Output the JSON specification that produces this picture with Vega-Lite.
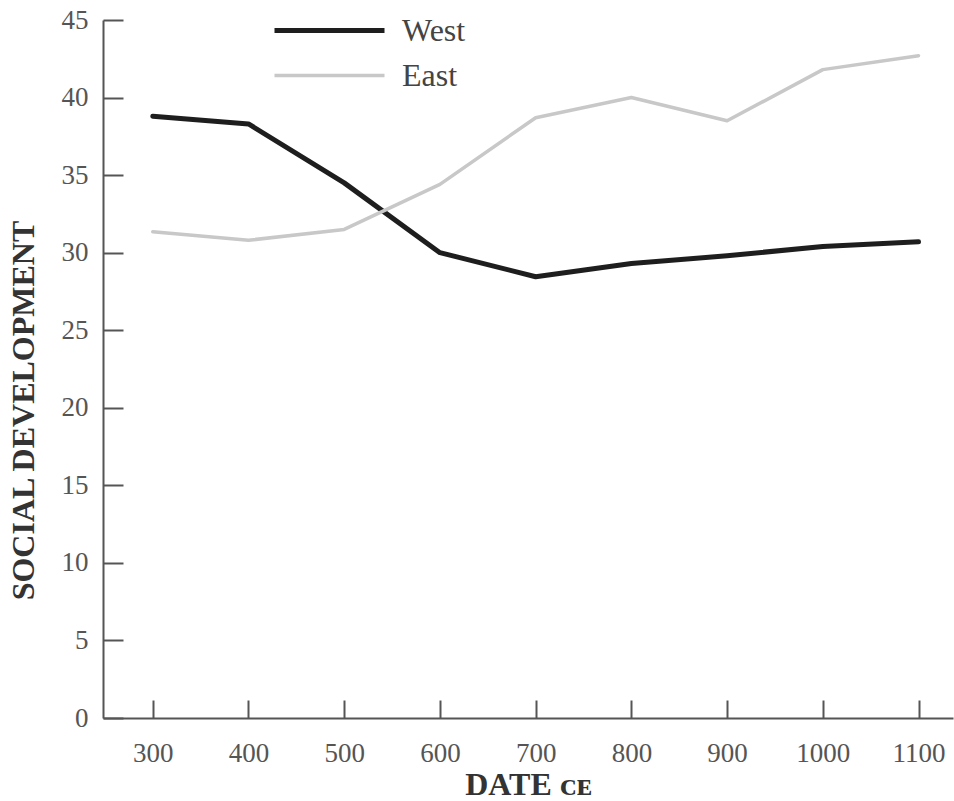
{
  "$schema": "https://vega.github.io/schema/vega-lite/v6.json",
  "autosize": {"type": "none"},
  "padding": {"left": 103, "top": 20, "right": 1, "bottom": 83},
  "width": 850,
  "height": 698,
  "background": "white",
  "config": {
    "view": {"stroke": null},
    "axis": {
      "domainColor": "#555",
      "domainWidth": 2,
      "tickColor": "#555",
      "tickWidth": 2,
      "grid": false,
      "labelFont": "Liberation Serif",
      "labelFontSize": 27,
      "labelColor": "#555",
      "titleFont": "Liberation Serif",
      "titleFontSize": 32,
      "titleFontWeight": "bold",
      "titleColor": "#333"
    }
  },
  "data": {
    "values": [
      {"year": 300, "value": 38.8, "region": "West"},
      {"year": 400, "value": 38.3, "region": "West"},
      {"year": 500, "value": 34.5, "region": "West"},
      {"year": 600, "value": 30.0, "region": "West"},
      {"year": 700, "value": 28.45, "region": "West"},
      {"year": 800, "value": 29.3, "region": "West"},
      {"year": 900, "value": 29.8, "region": "West"},
      {"year": 1000, "value": 30.4, "region": "West"},
      {"year": 1100, "value": 30.7, "region": "West"},
      {"year": 300, "value": 31.35, "region": "East"},
      {"year": 400, "value": 30.8, "region": "East"},
      {"year": 500, "value": 31.5, "region": "East"},
      {"year": 600, "value": 34.4, "region": "East"},
      {"year": 700, "value": 38.7, "region": "East"},
      {"year": 800, "value": 40.0, "region": "East"},
      {"year": 900, "value": 38.5, "region": "East"},
      {"year": 1000, "value": 41.8, "region": "East"},
      {"year": 1100, "value": 42.7, "region": "East"}
    ]
  },
  "mark": {"type": "line", "strokeCap": "round", "strokeJoin": "round"},
  "encoding": {
    "x": {
      "field": "year",
      "type": "quantitative",
      "scale": {"domain": [248, 1136], "nice": false, "zero": false},
      "axis": {
        "values": [300, 400, 500, 600, 700, 800, 900, 1000, 1100],
        "format": "d",
        "tickSize": -18,
        "labelPadding": 40,
        "title": "DATE ᴄᴇ",
        "titlePadding": 3,
        "labelFlush": false,
        "labelOverlap": false
      }
    },
    "y": {
      "field": "value",
      "type": "quantitative",
      "scale": {"domain": [0, 45], "nice": false},
      "axis": {
        "values": [0, 5, 10, 15, 20, 25, 30, 35, 40, 45],
        "tickSize": -20,
        "labelPadding": 35,
        "title": "SOCIAL DEVELOPMENT",
        "titlePadding": 21,
        "titleY": 390,
        "labelFlush": false,
        "labelOverlap": false
      }
    },
    "color": {
      "field": "region",
      "type": "nominal",
      "scale": {"domain": ["West", "East"], "range": ["#1e1e1e", "#c8c8c8"]},
      "legend": {
        "orient": "none",
        "legendX": 169,
        "legendY": -12,
        "padding": 0,
        "rowPadding": 0,
        "title": null,
        "symbolType": "stroke",
        "symbolSize": 12100,
        "clipHeight": 45,
        "labelFont": "Liberation Serif",
        "labelFontSize": 32,
        "labelColor": "#444",
        "labelOffset": 15
      }
    },
    "strokeWidth": {
      "field": "region",
      "type": "nominal",
      "scale": {"domain": ["West", "East"], "range": [5, 3.5]},
      "legend": null
    }
  }
}
